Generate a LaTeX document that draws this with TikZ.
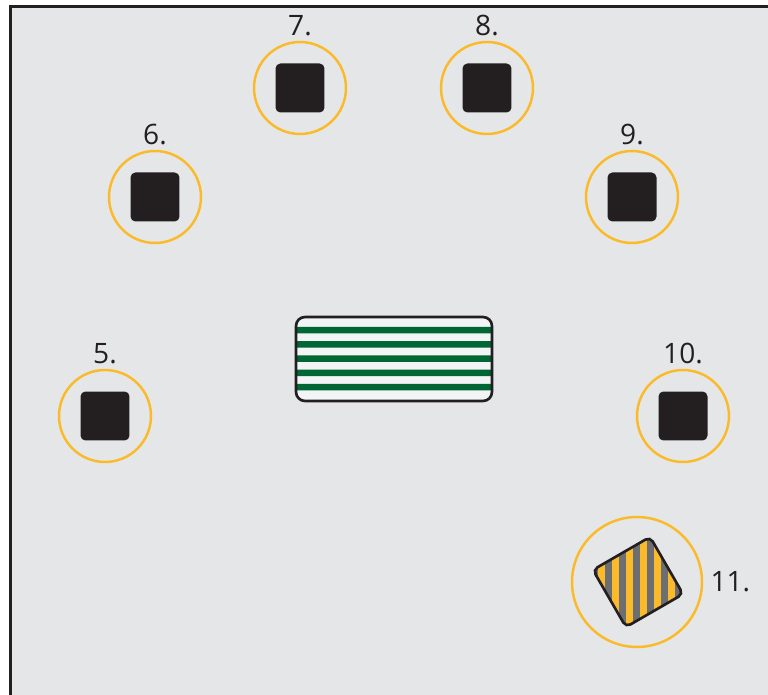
\documentclass[tikz,border=0pt]{standalone}
\usepackage{fontspec}
\setmainfont{Open Sans}
\usepackage{tikz}
\usetikzlibrary{positioning}
\definecolor{floorgray}{RGB}{229,230,232}
\definecolor{ringyellow}{RGB}{251,186,42}
\definecolor{padblack}{RGB}{35,31,32}
\definecolor{stripegreen}{RGB}{0,102,51}
\definecolor{stripegray}{RGB}{109,110,113}
\definecolor{boxwhite}{RGB}{243,244,246}
\tikzset{
  wall/.style   = {draw=padblack, line width=1.7pt},
  ring/.style   = {circle, draw=ringyellow, line width=1.4pt, minimum size=1.84cm, inner sep=0pt},
  pad/.style    = {fill=padblack, rounded corners=2.8pt, minimum size=0.98cm, inner sep=0pt},
  lbl/.style    = {font=\fontsize{16}{19}\selectfont, text=padblack, inner sep=0pt},
}

\begin{document}
\begin{tikzpicture}[x=0.02cm, y=-0.02cm, node distance=0.1cm]
  \useasboundingbox (0,0) rectangle (768,695);
  \fill[floorgray] (10.5,6.5) rectangle (768,695);
  \draw[wall] (10.5,695) -- (10.5,6.5) -- (768,6.5);

  % stations 5 to 10
  \foreach \n/\px/\py in {5/105/416, 6/155/197, 7/300/88, 8/487/88, 9/632/197, 10/683/416}{
    \node[ring] (r\n) at (\px,\py) {};
    \node[pad] (p\n) at (r\n) {};
    \node[lbl, above=of r\n] (l\n) {\n.};
  }

  % centre table
  \node[draw=padblack, line width=1.5pt, fill=boxwhite, rounded corners=0.18cm,
        minimum width=3.92cm, minimum height=1.68cm, inner sep=0pt,
        path picture={
          \foreach \i in {0,...,4}
            \fill[stripegreen] (-110,-32.2+14.3*\i) rectangle (110,-25.7+14.3*\i);
        }] (table) at (394,359) {};

  % station 11
  \node[ring, minimum size=2.6cm] (r11) at (637,582) {};
  \node[lbl, right=0.14cm of r11] (l11) {11.};
  \begin{scope}
    \clip[rotate around={30:(638,582)}, rounded corners=3pt] (605,549) rectangle (671,615);
    \fill[stripegray] (580,530) rectangle (700,640);
    \foreach \sx in {598,612,...,682}
      \fill[ringyellow] (\sx,530) rectangle (\sx+7,640);
  \end{scope}
  \draw[padblack, line width=1.5pt, rotate around={30:(638,582)}, rounded corners=3pt]
    (605,549) rectangle (671,615);
\end{tikzpicture}
\end{document}
